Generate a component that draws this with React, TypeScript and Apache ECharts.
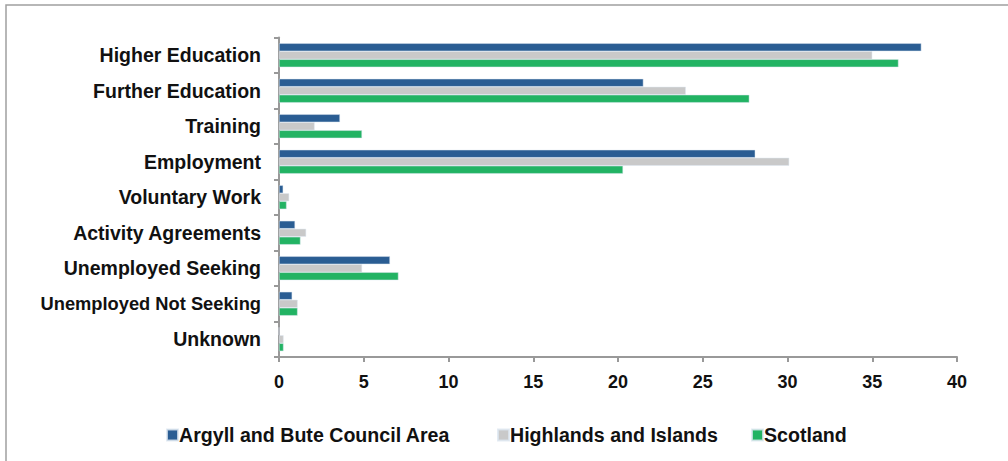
import React, { useEffect, useRef } from "react";
import * as echarts from "echarts";

const categories = [
  "Higher Education",
  "Further Education",
  "Training",
  "Employment",
  "Voluntary Work",
  "Activity Agreements",
  "Unemployed Seeking",
  "Unemployed Not Seeking",
  "Unknown",
];
const argyll = [37.9, 21.5, 3.6, 28.1, 0.25, 0.95, 6.55, 0.78, 0];
const highlands = [35.0, 24.0, 2.1, 30.1, 0.6, 1.6, 4.9, 1.1, 0.27];
const scotland = [36.55, 27.75, 4.9, 20.3, 0.45, 1.27, 7.05, 1.1, 0.27];
const seriesNames = ["Argyll and Bute Council Area", "Highlands and Islands", "Scotland"];
const colors = ["#2A5D93", "#C9C9C9", "#22B363"];
const xTicks = [0, 5, 10, 15, 20, 25, 30, 35, 40];
const legendLefts = [166, 497, 751];

export default function App() {
  const ref = useRef<HTMLDivElement>(null);
  useEffect(() => {
    document.body.style.margin = "0";
    const chart = echarts.init(ref.current!, null, { renderer: "svg" });
    const font = "Liberation Sans, Arial, sans-serif";
    const data = [argyll, highlands, scotland];
    chart.setOption({
      animation: false,
      textStyle: { fontFamily: font },
      graphic: [
        {
          type: "rect",
          shape: { x: 6, y: 5, width: 1100, height: 600 },
          style: { fill: "none", stroke: "#a0a0a0", lineWidth: 1.5 },
          silent: true,
        },
      ],
      legend: seriesNames.map((name, i) => ({
        top: 425,
        left: legendLefts[i],
        padding: 0,
        itemWidth: 11,
        itemHeight: 11,
        icon: "rect",
        textStyle: { fontSize: 19.6, fontWeight: "bold", color: "#111", fontFamily: font, padding: [0, 0, 0, -4] },
        data: [name],
      })),
      grid: { left: 279, right: 51, top: 37.5, bottom: 104, containLabel: false },
      xAxis: {
        type: "value",
        min: 0,
        max: 40,
        interval: 5,
        axisLine: { show: true, lineStyle: { color: "#999", width: 2 } },
        axisTick: { show: true, length: 5, lineStyle: { color: "#999", width: 2 } },
        splitLine: { show: false },
        axisLabel: {
          fontSize: 18,
          fontWeight: "bold",
          color: "#111",
          margin: 16,
          formatter: (v: number) => (xTicks.includes(v) ? String(v) : ""),
        },
      },
      yAxis: {
        type: "category",
        inverse: true,
        data: categories,
        axisLine: { show: true, lineStyle: { color: "#999", width: 2 } },
        axisTick: { show: true, length: 5, lineStyle: { color: "#999", width: 2 } },
        axisLabel: {
          fontSize: 19.5,
          fontWeight: "bold",
          color: "#111",
          margin: 18,
          formatter: (v: string) => (v.length > 20 ? `{s|${v}}` : v),
          rich: { s: { fontSize: 18.3, fontWeight: "bold", color: "#111", fontFamily: font } },
        },
      },
      series: seriesNames.map((name, i) => ({
        name,
        type: "bar",
        data: data[i],
        barWidth: 8,
        barGap: "0%",
        barCategoryGap: "30%",
        itemStyle: { color: colors[i], borderColor: "rgba(220,230,240,0.8)", borderWidth: 0.6 },
      })),
    });
    return () => chart.dispose();
  }, []);
  return <div ref={ref} style={{ width: 1008, height: 461 }} />;
}
